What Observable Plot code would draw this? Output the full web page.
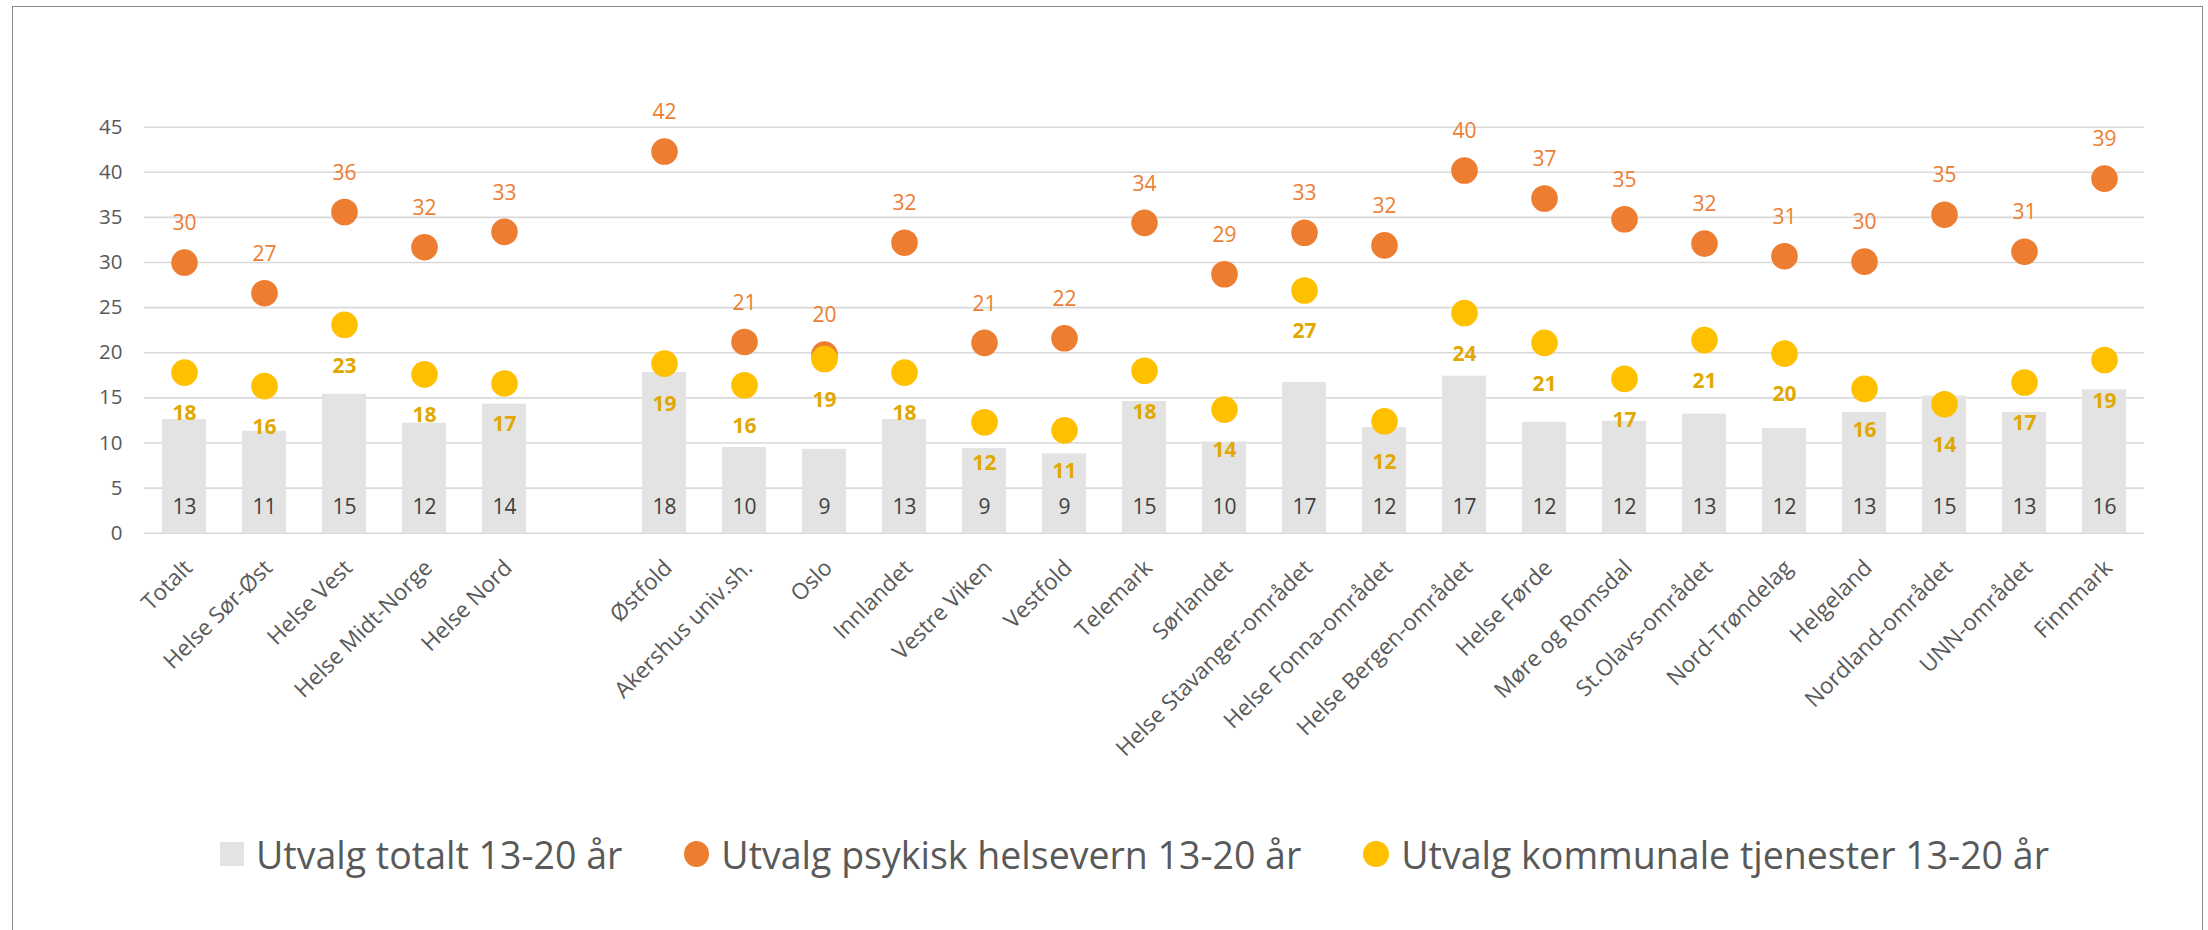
<!DOCTYPE html>
<html>
<head>
<meta charset="utf-8">
<script src="https://cdn.jsdelivr.net/npm/d3@7"></script>
<script src="https://cdn.jsdelivr.net/npm/@observablehq/plot@0.6"></script>
<style>
  html, body { margin: 0; padding: 0; background: #fff; }
  body { width: 2208px; height: 930px; position: relative; overflow: hidden; font-family: "Open Sans", sans-serif; }
  #frame { position: absolute; left: 12px; top: 6px; width: 2191px; height: 1000px; border: 1.5px solid #8a8a8a; box-sizing: border-box; pointer-events: none; }
  #chart svg { display: block; }
  #legend { height: 108px; width: 2208px; box-sizing: border-box; padding-left: 61px; display: flex; align-items: center; justify-content: center; color: #595959; font-size: 37.5px; font-family: "Open Sans", sans-serif; }
  .item { display: flex; align-items: center; margin: 0 31px; white-space: nowrap; }
  .sw { display: inline-block; margin-right: 12px; }
</style>
</head>
<body>
<div id="chart"></div>
<div id="legend"></div>
<div id="frame"></div>
<script>
const categories = ["Totalt","Helse Sør-Øst","Helse Vest","Helse Midt-Norge","Helse Nord",
  "Østfold","Akershus univ.sh.","Oslo","Innlandet","Vestre Viken","Vestfold","Telemark","Sørlandet",
  "Helse Stavanger-området","Helse Fonna-området","Helse Bergen-området","Helse Førde","Møre og Romsdal",
  "St.Olavs-området","Nord-Trøndelag","Helgeland","Nordland-området","UNN-området","Finnmark"];
const totalt   = [12.6,11.3,15.4,12.2,14.3, 17.8,9.5,9.3,12.6,9.4,8.8,14.6,10.1,16.7,11.7,17.4,12.3,12.4,13.2,11.6,13.4,15.2,13.4,15.9];
const psykisk  = [30.0,26.6,35.6,31.7,33.4, 42.3,21.2,19.8,32.2,21.1,21.6,34.4,28.7,33.3,31.9,40.2,37.1,34.8,32.1,30.7,30.1,35.3,31.2,39.3];
const kommunal = [17.8,16.3,23.1,17.6,16.6, 18.8,16.4,19.3,17.8,12.3,11.4,18.0,13.7,26.9,12.4,24.4,21.1,17.1,21.4,19.9,16.0,14.3,16.7,19.2];
const seriesNames = ["Utvalg totalt 13-20 år","Utvalg psykisk helsevern 13-20 år","Utvalg kommunale tjenester 13-20 år"];
const yTicks = [0,5,10,15,20,25,30,35,40,45];
const spacer = " ";

const colBar = "#e3e3e3", colOrange = "#ed7d31", colYellow = "#ffc000", colYellowText = "#e0a800";
const domain = [...categories.slice(0,5), spacer, ...categories.slice(5)];
const rows = categories.map((c,i) => ({c, t: totalt[i], p: psykisk[i], k: kommunal[i]}));
const fmt = d3.format(".0f");
const font = "Open Sans, sans-serif";

const chart = Plot.plot({
  width: 2208,
  height: 800,
  marginLeft: 144,
  marginRight: 64,
  marginTop: 126.7,
  marginBottom: 267.3,
  style: {fontFamily: font, background: "transparent", overflow: "visible"},
  x: {domain, paddingInner: 0.45, paddingOuter: 0.225, axis: null},
  y: {domain: [0,45], axis: null},
  marks: [
    Plot.gridY(yTicks, {stroke: "#d9d9d9", strokeOpacity: 1, strokeWidth: 1.6}),
    Plot.axisY(yTicks, {tickSize: 0, tickPadding: 22, fontSize: 20.5, fill: "#595959", fontFamily: font}),
    Plot.barY(rows, {x: "c", y: "t", fill: colBar}),
    Plot.text(rows, {x: "c", y: 0, text: d => fmt(d.t), dy: -26, fill: "#404040", fontSize: 21, fontFamily: font}),
    Plot.dot(rows, {x: "c", y: "p", r: 13.3, fill: colOrange}),
    Plot.dot(rows, {x: "c", y: "k", r: 13.3, fill: colYellow}),
    Plot.text(rows, {x: "c", y: "p", text: d => fmt(d.p), dy: -39, fill: colOrange, fontSize: 21, fontFamily: font}),
    Plot.text(rows, {x: "c", y: "k", text: d => fmt(d.k), dy: 41, fill: colYellowText, fontSize: 21, fontWeight: "bold", fontFamily: font}),
    Plot.text(categories, {x: d => d, y: 0, text: d => d, rotate: -45, textAnchor: "end", dx: 4, dy: 31, fill: "#595959", fontSize: 22.5, fontFamily: font})
  ]
});
document.getElementById("chart").appendChild(chart);

const legend = document.getElementById("legend");
const swatches = [
  `<span class="sw" style="width:24px;height:24px;background:${colBar}"></span>`,
  `<span class="sw" style="width:25px;height:26px;border-radius:50%;background:${colOrange}"></span>`,
  `<span class="sw" style="width:26px;height:26px;border-radius:50%;background:${colYellow}"></span>`
];
seriesNames.forEach((n,i) => {
  const el = document.createElement("span");
  el.className = "item";
  el.innerHTML = swatches[i] + `<span>${n}</span>`;
  legend.appendChild(el);
});
</script>
</body>
</html>
